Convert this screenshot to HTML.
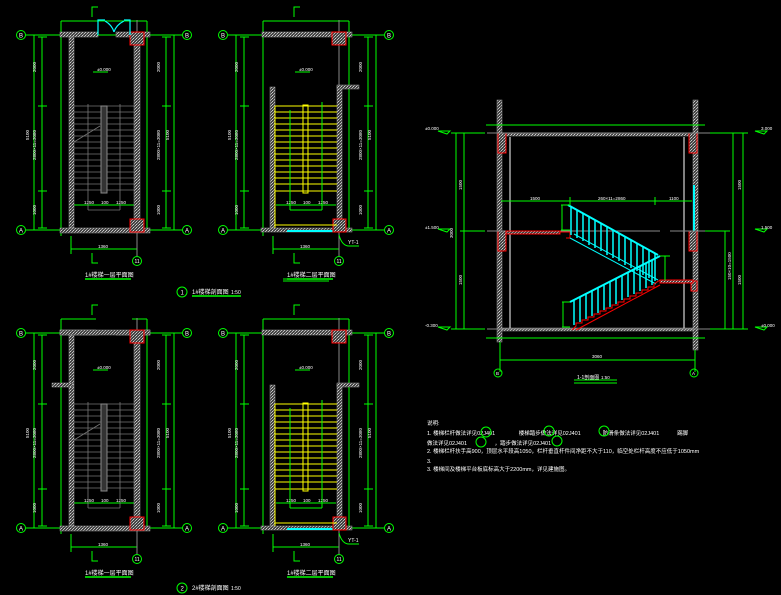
<!DOCTYPE html>
<html><head><meta charset="utf-8"><style>
html,body{margin:0;padding:0;background:#000;}
svg{display:block;}
text{font-family:"Liberation Sans","Noto Sans CJK SC",sans-serif;fill:#fff;}
</style></head><body>
<svg width="781" height="595" viewBox="0 0 781 595" xmlns="http://www.w3.org/2000/svg">
<defs>
<pattern id="h" width="3" height="3" patternUnits="userSpaceOnUse">
<rect width="3" height="3" fill="#444"/><rect x="0" y="0" width="1" height="1" fill="#bbb"/><rect x="2" y="1" width="1" height="1" fill="#999"/><rect x="1" y="2" width="1" height="1" fill="#ccc"/>
</pattern>
<g id="common">
 <!-- axis lines -->
 <g stroke="#0f0" stroke-width="1" fill="none">
  <line x1="26" y1="35" x2="182" y2="35"/><line x1="26" y1="230" x2="182" y2="230"/>
  <circle cx="21" cy="35" r="4.5"/><circle cx="21" cy="230" r="4.5"/>
  <circle cx="187" cy="35" r="4.5"/><circle cx="187" cy="230" r="4.5"/>
  <circle cx="137" cy="261" r="4.5"/>
  <line x1="34" y1="35" x2="34" y2="230"/>
  <line x1="42" y1="37" x2="42" y2="228"/>
  <line x1="38" y1="106" x2="47" y2="106"/><line x1="38" y1="191" x2="47" y2="191"/>
  <line x1="38" y1="37" x2="47" y2="37"/><line x1="38" y1="228" x2="47" y2="228"/>
  <line x1="166" y1="37" x2="166" y2="228"/><line x1="174" y1="35" x2="174" y2="230"/>
  <line x1="162" y1="106" x2="171" y2="106"/><line x1="162" y1="191" x2="171" y2="191"/>
  <line x1="162" y1="37" x2="171" y2="37"/><line x1="162" y1="228" x2="171" y2="228"/>
  <line x1="61" y1="21" x2="61" y2="236"/><line x1="147" y1="21" x2="147" y2="230"/>
  <line x1="61" y1="21" x2="147" y2="21"/>
  <line x1="71" y1="236" x2="71" y2="254"/><line x1="71" y1="249" x2="137" y2="249"/><line x1="137" y1="236" x2="137" y2="254"/>
  <line x1="74" y1="205" x2="134" y2="205"/>
  <polyline points="92,253 92,263 98,263"/>
  <polyline points="92,17 92,7 98,7"/>
  <line x1="93" y1="72" x2="108" y2="72"/>
 </g>
 <line x1="137" y1="20" x2="137" y2="256" stroke="#888"/>
 <text x="19" y="37.5" font-size="6">B</text><text x="19" y="232.5" font-size="6">A</text>
 <text x="185" y="37.5" font-size="6">B</text><text x="185" y="232.5" font-size="6">A</text>
 <text x="134.5" y="263" font-size="5">11</text>
 <g font-size="4.5">
 <text x="36" y="72" transform="rotate(-90 36 72)">2000</text>
 <text x="36" y="160" transform="rotate(-90 36 160)">2800×11=3080</text>
 <text x="36" y="215" transform="rotate(-90 36 215)">1000</text>
 <text x="29" y="140" transform="rotate(-90 29 140)">5100</text>
 <text x="160" y="72" transform="rotate(-90 160 72)">2000</text>
 <text x="160" y="160" transform="rotate(-90 160 160)">2800×11=3080</text>
 <text x="160" y="215" transform="rotate(-90 160 215)">1000</text>
 <text x="169" y="140" transform="rotate(-90 169 140)">5100</text>
 <text x="98" y="248">1360</text>
 <text x="84" y="204">1250</text><text x="101" y="204">100</text><text x="116" y="204">1250</text>
 <text x="97" y="71">±0.000</text>
 </g>
 <line x1="85" y1="279" x2="131" y2="279" stroke="#0f0" stroke-width="1.5"/>
</g>
<g id="stairG">
 <g stroke="#777" stroke-width="0.8">
  <line x1="74" y1="106" x2="134" y2="106"/><line x1="74" y1="112" x2="134" y2="112"/><line x1="74" y1="118" x2="134" y2="118"/><line x1="74" y1="124" x2="134" y2="124"/><line x1="74" y1="130" x2="134" y2="130"/><line x1="74" y1="136" x2="134" y2="136"/><line x1="74" y1="142" x2="134" y2="142"/><line x1="74" y1="148" x2="134" y2="148"/><line x1="74" y1="154" x2="134" y2="154"/><line x1="74" y1="160" x2="134" y2="160"/><line x1="74" y1="166" x2="134" y2="166"/><line x1="74" y1="172" x2="134" y2="172"/><line x1="74" y1="178" x2="134" y2="178"/><line x1="74" y1="184" x2="134" y2="184"/><line x1="74" y1="190" x2="134" y2="190"/>
  <line x1="88" y1="104" x2="88" y2="210"/><line x1="120" y1="104" x2="120" y2="210"/><line x1="88" y1="210" x2="120" y2="210"/>
  <line x1="74" y1="142" x2="100" y2="126"/>
 </g>
 <rect x="101" y="106" width="6" height="87" fill="#333" stroke="#888"/>
</g>
<g id="plan1">
 <use href="#common"/>
 <use href="#stairG"/>
 <rect x="60" y="32" width="38" height="5" fill="url(#h)" stroke="#999" stroke-width="0.5"/>
 <rect x="116" y="32" width="34" height="5" fill="url(#h)" stroke="#999" stroke-width="0.5"/>
 <rect x="69" y="37" width="5" height="191" fill="url(#h)" stroke="#999" stroke-width="0.5"/>
 <rect x="134" y="37" width="6" height="191" fill="url(#h)" stroke="#999" stroke-width="0.5"/>
 <rect x="60" y="228" width="90" height="5" fill="url(#h)" stroke="#999" stroke-width="0.5"/>
 <rect x="130" y="32" width="14" height="13" fill="url(#h)" stroke="#f00"/>
 <rect x="130" y="219" width="14" height="13" fill="url(#h)" stroke="#f00"/>
 <g stroke="#0ff" stroke-width="1.2" fill="none">
  <polyline points="98,35 98,20 105,20"/><path d="M105,21 Q112,25 114,32"/>
  <polyline points="130,35 130,20 124,20"/><path d="M124,21 Q116,25 114,32"/>
 </g>
 <text x="85" y="277" font-size="6">1#楼梯一层平面图</text>
</g>
<g id="plan2">
 <use href="#common"/>
 <rect x="60" y="32" width="90" height="5" fill="url(#h)" stroke="#999" stroke-width="0.5"/>
 <rect x="68" y="87" width="5" height="141" fill="url(#h)" stroke="#999" stroke-width="0.5"/>
 <rect x="135" y="86" width="5" height="142" fill="url(#h)" stroke="#999" stroke-width="0.5"/>
 <rect x="135" y="85" width="22" height="4" fill="url(#h)" stroke="#999" stroke-width="0.5"/>
 <rect x="59" y="228" width="91" height="4" fill="url(#h)" stroke="#999" stroke-width="0.5"/>
 <line x1="85" y1="231" x2="131" y2="231" stroke="#0ff" stroke-width="2"/>
 <rect x="130" y="32" width="14" height="13" fill="url(#h)" stroke="#f00"/>
 <rect x="131" y="219" width="13" height="13" fill="url(#h)" stroke="#f00"/>
 <g stroke="#ff0" stroke-width="1">
  <line x1="73" y1="106" x2="135" y2="106"/><line x1="73" y1="112" x2="135" y2="112"/><line x1="73" y1="118" x2="135" y2="118"/><line x1="73" y1="124" x2="135" y2="124"/><line x1="73" y1="130" x2="135" y2="130"/><line x1="73" y1="136" x2="135" y2="136"/><line x1="73" y1="142" x2="135" y2="142"/><line x1="73" y1="148" x2="135" y2="148"/><line x1="73" y1="154" x2="135" y2="154"/><line x1="73" y1="160" x2="135" y2="160"/><line x1="73" y1="166" x2="135" y2="166"/><line x1="73" y1="172" x2="135" y2="172"/><line x1="73" y1="178" x2="135" y2="178"/><line x1="73" y1="184" x2="135" y2="184"/><line x1="73" y1="191" x2="135" y2="191"/>
  <line x1="73" y1="106" x2="73" y2="228"/><line x1="73" y1="225" x2="135" y2="225"/>
  <rect x="101" y="105" width="5" height="88" fill="none"/>
 </g>
 <g stroke="#0f0" fill="none">
  <line x1="88" y1="110" x2="88" y2="210"/><line x1="120" y1="102" x2="120" y2="210"/><line x1="88" y1="210" x2="120" y2="210"/>
  <path d="M137,235 Q140,246 147,246 L157,246"/>
 </g>
 <text x="146" y="244" font-size="5">YT-1</text>
 <text x="85" y="277" font-size="6">1#楼梯二层平面图</text>
</g>
</defs>

<use href="#plan1"/>
<use href="#plan2" transform="translate(202,0)"/>
<use href="#plan1" transform="translate(0,298)"/>
<use href="#plan2" transform="translate(202,298)"/>

<!-- cover door in bottom-left plan and add stub -->
<rect x="96" y="312" width="36" height="20" fill="#000"/>
<rect x="60" y="330" width="90" height="5" fill="url(#h)" stroke="#999" stroke-width="0.5"/>
<rect x="130" y="330" width="14" height="13" fill="url(#h)" stroke="#f00"/>
<rect x="52" y="383" width="21" height="4" fill="url(#h)" stroke="#999" stroke-width="0.5"/>

<!-- titles -->
<circle cx="182" cy="292" r="5" fill="none" stroke="#0f0"/><text x="180.5" y="294.5" font-size="6">1</text>
<text x="192" y="294" font-size="6">1#楼梯剖面图</text><text x="231" y="294" font-size="5">1:50</text>
<line x1="192" y1="296" x2="241" y2="296" stroke="#0f0" stroke-width="1.5"/>
<line x1="283" y1="279" x2="329" y2="279" stroke="#0f0"/><line x1="283" y1="281" x2="329" y2="281" stroke="#0f0"/>
<circle cx="182" cy="588" r="5" fill="none" stroke="#0f0"/><text x="180.5" y="590.5" font-size="6">2</text>
<text x="192" y="590" font-size="6">2#楼梯剖面图</text><text x="231" y="590" font-size="5">1:50</text>

<!-- section -->
<g>
 <rect x="497" y="100" width="5" height="242" fill="url(#h)" stroke="#999" stroke-width="0.5"/>
 <rect x="693" y="100" width="5" height="250" fill="url(#h)" stroke="#999" stroke-width="0.5"/>
 <rect x="502" y="133" width="191" height="3" fill="url(#h)" stroke="#999" stroke-width="0.5"/>
 <rect x="502" y="328" width="191" height="3" fill="url(#h)" stroke="#999" stroke-width="0.5"/>
 <line x1="510" y1="137" x2="510" y2="328" stroke="#fff"/><line x1="684" y1="137" x2="684" y2="328" stroke="#fff"/>
 <g fill="url(#h)" stroke="#f00">
  <rect x="498" y="133" width="8" height="20"/><rect x="689" y="133" width="8" height="20"/>
  <rect x="498" y="231" width="8" height="20"/><rect x="689" y="231" width="8" height="20"/>
  <rect x="691" y="281" width="6" height="10"/>
 </g>
 <line x1="694" y1="185" x2="694" y2="231" stroke="#0ff" stroke-width="2"/>
 <g stroke="#888"><line x1="487" y1="231" x2="660" y2="231"/><line x1="670" y1="231" x2="713" y2="231"/>
  <line x1="487" y1="133" x2="713" y2="133"/><line x1="487" y1="329" x2="713" y2="329"/></g>
 <path d="M506,231 L560,231 L560,234 L506,234 Z" fill="url(#h)" stroke="#f00"/>
 <path d="M560,232 L570,232 L570,238 L566,238" fill="none" stroke="#f00"/>
 <path d="M660,280 L693,280 L693,283 L660,283 Z" fill="url(#h)" stroke="#f00"/>
 <!-- upper flight -->
 <line x1="568" y1="205" x2="658" y2="255" stroke="#0ff" stroke-width="2"/>
 <line x1="570" y1="238" x2="656" y2="284" stroke="#0ff"/>
 <line x1="574" y1="234" x2="658" y2="280" stroke="#0ff"/>
 <path stroke="#0ff" stroke-width="1.5" d="M571,207V235M577,210V238M583,213V241M589,217V245M595,220V248M601,223V251M607,227V255M613,230V258M619,233V261M625,237V265M631,240V268M637,243V271M643,247V275M649,250V278M655,253V281"/>
 <!-- lower flight -->
 <line x1="570" y1="302" x2="660" y2="256" stroke="#0ff" stroke-width="2"/>
 <path stroke="#0ff" stroke-width="1.5" d="M574,300V325M580,297V322M586,294V319M592,291V316M598,288V313M604,285V310M610,282V307M616,279V304M622,275V300M628,272V297M634,269V294M640,266V291M646,263V288M652,260V285"/>
 <path d="M572,330 L576,326 L576,323 L582,323 L582,320 L588,320 L588,317 L594,317 L594,314 L600,314 L600,311 L606,311 L606,308 L612,308 L612,305 L618,305 L618,302 L624,302 L624,299 L630,299 L630,296 L636,296 L636,293 L642,293 L642,290 L648,290 L648,287 L654,287 L654,284 L660,280" fill="none" stroke="#f00"/>
 <line x1="576" y1="330" x2="660" y2="285" stroke="#f00"/>
 <!-- dims -->
 <g stroke="#0f0" fill="none">
  <line x1="486" y1="125" x2="705" y2="125"/><line x1="486" y1="338" x2="705" y2="338"/>
  <line x1="501" y1="201" x2="692" y2="201"/><line x1="570" y1="197" x2="570" y2="205"/><line x1="655" y1="197" x2="655" y2="205"/>
  <line x1="456" y1="133" x2="456" y2="329"/><line x1="464" y1="133" x2="464" y2="329"/>
  <line x1="451" y1="133" x2="485" y2="133"/><line x1="451" y1="329" x2="485" y2="329"/><line x1="460" y1="231" x2="485" y2="231"/>
  <line x1="733" y1="133" x2="733" y2="329"/><line x1="743" y1="133" x2="743" y2="329"/><line x1="725" y1="231" x2="725" y2="329"/>
  <line x1="710" y1="133" x2="748" y2="133"/><line x1="710" y1="329" x2="748" y2="329"/><line x1="705" y1="231" x2="730" y2="231"/>
  <line x1="500" y1="342" x2="500" y2="372"/><line x1="695" y1="350" x2="695" y2="372"/>
  <line x1="500" y1="360" x2="695" y2="360"/>
  <circle cx="498" cy="373" r="4"/><circle cx="694" cy="373" r="4"/>
  <line x1="561" y1="205" x2="570" y2="205"/><line x1="561" y1="230" x2="570" y2="230"/><line x1="562" y1="205" x2="562" y2="230"/>
  <line x1="660" y1="256" x2="670" y2="256"/><line x1="665" y1="256" x2="665" y2="280"/>
  <line x1="562" y1="302" x2="570" y2="302"/><line x1="562" y1="327" x2="570" y2="327"/><line x1="563" y1="302" x2="563" y2="327"/>
  <line x1="574" y1="380" x2="617" y2="380"/><line x1="574" y1="383" x2="617" y2="383"/>
  <path d="M438,131h12l-3,3z M438,229h12l-3,3z M438,327h12l-3,3z M755,131h12l-3,3z M755,229h12l-3,3z M755,327h12l-3,3z"/>
 </g>
 <g font-size="4.5">
  <text x="425" y="130">±0.000</text><text x="425" y="229">±1.500</text><text x="425" y="327">-0.300</text>
  <text x="761" y="130">3.000</text><text x="761" y="229">1.500</text><text x="761" y="327">±0.000</text>
  <text x="530" y="200">1500</text><text x="598" y="200">260×11=2860</text><text x="669" y="200">1100</text>
  <text x="592" y="358">3060</text>
  <text x="496" y="375">B</text><text x="692" y="375">A</text>
  <text x="577" y="379" font-size="5">1-1剖面图</text><text x="601" y="379">1:50</text>
  <text x="462" y="190" transform="rotate(-90 462 190)">1500</text>
  <text x="462" y="285" transform="rotate(-90 462 285)">1500</text>
  <text x="453" y="238" transform="rotate(-90 453 238)">3000</text>
  <text x="741" y="190" transform="rotate(-90 741 190)">1500</text>
  <text x="741" y="285" transform="rotate(-90 741 285)">1500</text>
  <text x="731" y="280" transform="rotate(-90 731 280)">150×10=1500</text>
 </g>
</g>

<!-- notes -->
<g font-size="5.5">
 <text x="427" y="425">说明:</text>
 <text x="427" y="435">1. 楼梯栏杆做法详见02J401  <tspan dx="22">楼梯踏步做法详见02J401</tspan><tspan dx="22">防滑条做法详见02J401</tspan><tspan dx="18">踢脚</tspan></text>
 <text x="427" y="445">做法详见02J401 <tspan dx="26">，踏步做法详见02J401</tspan></text>
 <text x="427" y="453">2. 楼梯栏杆扶手高900，顶层水平段高1050，栏杆垂直杆件间净距不大于110，临空处栏杆高度不应低于1050mm</text>
 <text x="427" y="463">3.</text>
 <text x="427" y="471">3. 楼梯间及楼梯平台板底标高大于2200mm，详见建施图。</text>
</g>
<g stroke="#0f0" fill="none">
 <circle cx="486" cy="432" r="5"/><circle cx="549" cy="431" r="5"/><circle cx="604" cy="431" r="5"/>
 <circle cx="481" cy="442" r="5"/><circle cx="557" cy="441" r="5"/>
</g>
</svg>
</body></html>
